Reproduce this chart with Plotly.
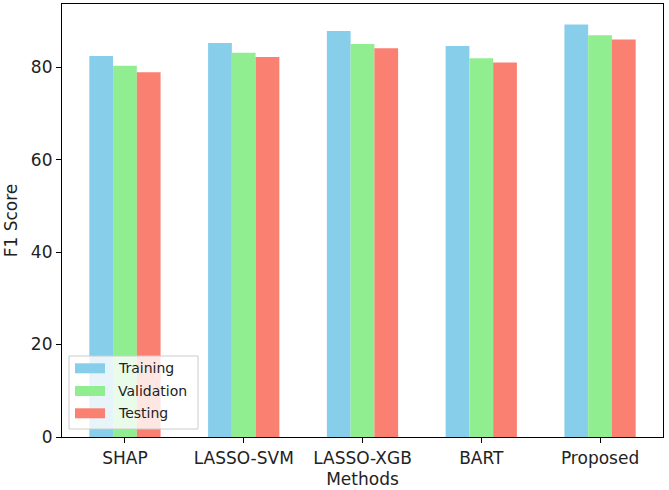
import plotly.graph_objects as go

methods = ["SHAP", "LASSO-SVM", "LASSO-XGB", "BART", "Proposed"]
training = [82.4, 85.2, 87.8, 84.6, 89.2]
validation = [80.3, 83.1, 85.0, 81.9, 86.9]
testing = [78.9, 82.2, 84.1, 81.0, 86.0]
series_names = ["Training", "Validation", "Testing"]
series_colors = ["#87CEEB", "#90EE90", "#FA8072"]
y_ticks = [0, 20, 40, 60, 80]

series_values = [training, validation, testing]

fig = go.Figure()
for name, vals, col in zip(series_names, series_values, series_colors):
    fig.add_trace(go.Bar(x=methods, y=vals, name=name, marker_color=col,
                         marker_line_width=0, showlegend=False))

# plot area in pixels: x 62..663, y 4..437
L, R, T, B = 62, 663, 4, 437
W, H = R - L, B - T

def px(x):
    return (x - L) / W

def py(y):
    return (B - y) / H

shapes = []
annotations = []
# legend box
shapes.append(dict(type="rect", xref="paper", yref="paper",
                   x0=px(69), x1=px(198), y0=py(429), y1=py(356),
                   fillcolor="rgba(255,255,255,0.8)",
                   line=dict(color="rgba(204,204,204,1)", width=1), layer="above"))
row_centers = [368.3, 391, 413.3]
for name, col, yc in zip(series_names, series_colors, row_centers):
    shapes.append(dict(type="rect", xref="paper", yref="paper",
                       x0=px(75), x1=px(105), y0=py(yc + 5), y1=py(yc - 5),
                       fillcolor=col, line=dict(width=0), layer="above"))
    annotations.append(dict(text=name, xref="paper", yref="paper",
                            x=px(116), y=py(yc), xanchor="left", yanchor="middle",
                            showarrow=False, font=dict(size=14, color="#222")))

fig.update_layout(
    width=669, height=490,
    margin=dict(l=L, r=669 - R, t=T, b=490 - B),
    plot_bgcolor="white", paper_bgcolor="white",
    barmode="group", bargap=0.4, bargroupgap=0,
    font=dict(family="DejaVu Sans", color="#222"),
    shapes=shapes, annotations=annotations,
    showlegend=False,
)
fig.update_xaxes(range=[-0.53, 4.53], showline=True, linecolor="black", linewidth=1.2,
                 mirror=True, ticks="outside", ticklen=5, tickcolor="black",
                 tickfont=dict(size=17), showgrid=False,
                 title=dict(text="Methods", font=dict(size=17), standoff=6))
fig.update_yaxes(range=[0, 93.66], tickvals=y_ticks, showline=True, linecolor="black",
                 linewidth=1.2, mirror=True, ticks="outside", ticklen=5, tickcolor="black",
                 tickfont=dict(size=17), showgrid=False, zeroline=False,
                 title=dict(text="F1 Score", font=dict(size=17), standoff=8))

fig.write_html("out.html")
